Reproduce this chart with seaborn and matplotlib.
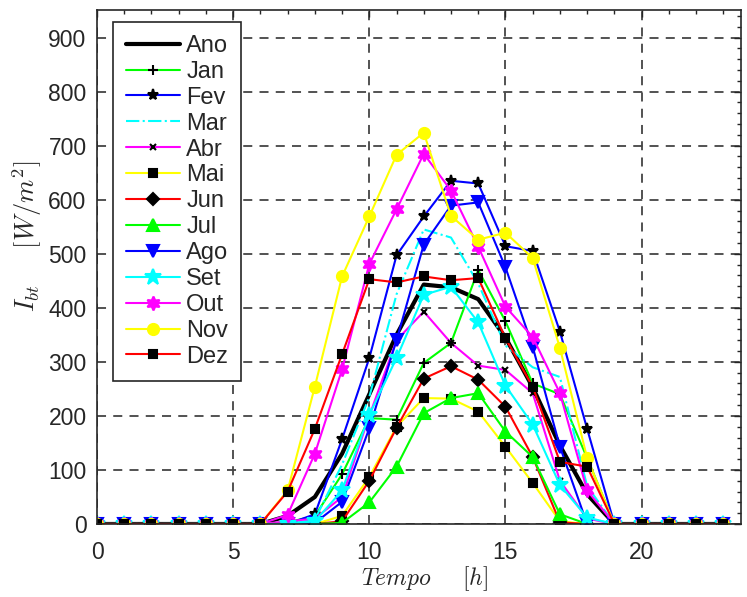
import matplotlib

matplotlib.use("Agg")
import matplotlib.pyplot as plt
import numpy as np
import pandas as pd
import seaborn as sns
from matplotlib.ticker import MultipleLocator

hours = list(range(24))

# Irradiance values [W/m^2] per hour (0..23)
ano = [0, 0, 0, 0, 0, 0, 0, 15, 50, 130, 240, 350, 443, 438, 416, 345, 253, 145, 55, 0, 0, 0, 0, 0]
jan = [0, 0, 0, 0, 0, 0, 0, 3, 15, 92, 196, 193, 298, 335, 470, 375, 260, 240, 122, 0, 0, 0, 0, 0]
fev = [0, 0, 0, 0, 0, 0, 0, 0, 18, 157, 307, 497, 569, 635, 630, 514, 505, 356, 176, 0, 0, 0, 0, 0]
mar = [0, 0, 0, 0, 0, 0, 0, 0, 8, 110, 235, 425, 545, 530, 445, 330, 290, 272, 70, 0, 0, 0, 0, 0]
abr = [0, 0, 0, 0, 0, 0, 0, 5, 10, 50, 200, 340, 393, 335, 293, 285, 242, 80, 10, 0, 0, 0, 0, 0]
mai = [0, 0, 0, 0, 0, 0, 0, 0, 0, 15, 87, 180, 233, 232, 208, 143, 76, 5, 0, 0, 0, 0, 0, 0]
jun = [0, 0, 0, 0, 0, 0, 0, 0, 0, 5, 80, 178, 269, 292, 267, 217, 124, 3, 0, 0, 0, 0, 0, 0]
jul = [0, 0, 0, 0, 0, 0, 0, 0, 0, 2, 40, 106, 205, 233, 242, 171, 124, 18, 0, 0, 0, 0, 0, 0]
ago = [0, 0, 0, 0, 0, 0, 0, 0, 2, 41, 177, 340, 517, 589, 595, 475, 328, 143, 0, 0, 0, 0, 0, 0]
sete = [0, 0, 0, 0, 0, 0, 0, 0, 5, 62, 202, 307, 424, 439, 373, 256, 184, 72, 12, 0, 0, 0, 0, 0]
out = [0, 0, 0, 0, 0, 0, 0, 17, 130, 286, 481, 582, 685, 617, 513, 402, 346, 242, 62, 0, 0, 0, 0, 0]
nov = [0, 0, 0, 0, 0, 0, 0, 62, 254, 458, 569, 683, 724, 570, 526, 539, 492, 326, 122, 0, 0, 0, 0, 0]
dez = [0, 0, 0, 0, 0, 0, 0, 60, 176, 314, 453, 447, 458, 451, 455, 344, 254, 115, 106, 0, 0, 0, 0, 0]

labels = ["Ano", "Jan", "Fev", "Mar", "Abr", "Mai", "Jun", "Jul", "Ago", "Set", "Out", "Nov", "Dez"]
series = [ano, jan, fev, mar, abr, mai, jun, jul, ago, sete, out, nov, dez]

# line colour, linestyle, marker, marker colour, marker size, line width
styles = {
    "Ano": dict(color="k", ls="-", marker=None, mc="k", ms=0, lw=3.0),
    "Jan": dict(color="#00ff00", ls="-", marker="+", mc="k", ms=7, lw=1.5),
    "Fev": dict(color="#0000ff", ls="-", marker="*", mc="k", ms=8, lw=1.5),
    "Mar": dict(color="#00ffff", ls="-.", marker=None, mc="#00ffff", ms=0, lw=1.5),
    "Abr": dict(color="#ff00ff", ls="-", marker="x", mc="k", ms=4.5, lw=1.5),
    "Mai": dict(color="#ffff00", ls="-", marker="s", mc="k", ms=6, lw=1.5),
    "Jun": dict(color="#ff0000", ls="-", marker="D", mc="k", ms=6, lw=1.5),
    "Jul": dict(color="#00ff00", ls="-", marker="^", mc="#00ff00", ms=8, lw=1.5),
    "Ago": dict(color="#0000ff", ls="-", marker="v", mc="#0000ff", ms=8, lw=1.5),
    "Set": dict(color="#00ffff", ls="-", marker="*", mc="#00ffff", ms=12, lw=1.5),
    "Out": dict(color="#ff00ff", ls="-", marker=(6, 1, 0), mc="#ff00ff", ms=10, lw=1.5),
    "Nov": dict(color="#ffff00", ls="-", marker="o", mc="#ffff00", ms=8, lw=1.5),
    "Dez": dict(color="#ff0000", ls="-", marker="s", mc="k", ms=6, lw=1.5),
}

sns.set_style("white")
plt.rcParams["font.family"] = ["Liberation Sans", "DejaVu Sans"]
plt.rcParams["mathtext.fontset"] = "cm"

fig = plt.figure(figsize=(7.47, 5.97), dpi=100)
ax = fig.add_axes([97 / 747, 73 / 597, 644 / 747, 514 / 597])

for name, vals in zip(labels, series):
    st = styles[name]
    df = pd.DataFrame({"h": hours, "v": vals})
    kw = dict(color=st["color"], linestyle=st["ls"], linewidth=st["lw"], label=name)
    if st["marker"] is not None:
        kw.update(marker=st["marker"], markersize=st["ms"], markerfacecolor=st["mc"],
                  markeredgecolor=st["mc"], markeredgewidth=1.5)
    sns.lineplot(data=df, x="h", y="v", ax=ax, **kw)

ax.set_xlim(0, 23.65)
ax.set_ylim(0, 951)
ax.xaxis.set_major_locator(MultipleLocator(5))
ax.xaxis.set_minor_locator(MultipleLocator(1))
ax.yaxis.set_major_locator(MultipleLocator(100))
ax.yaxis.set_minor_locator(MultipleLocator(20))
ax.tick_params(which="both", direction="in", top=True, right=True, labelsize=16.5,
               colors="#262626", width=1.0)
ax.tick_params(which="major", length=5)
ax.tick_params(which="minor", length=3)
ax.tick_params(axis="x", which="major", pad=12)
ax.tick_params(axis="y", which="major", pad=7.5)
ax.grid(True, which="major", color="#444444", linestyle=(0, (5, 4)), linewidth=1.3)
for sp in ax.spines.values():
    sp.set_color("#262626")
    sp.set_linewidth(1.2)

ax.set_xlabel(r"$Tempo\quad\;\;[h]$", fontsize=17, color="#262626")
ax.set_ylabel(r"$I_{bt}\quad\;\;[W/m^2]$", fontsize=19, color="#262626")
ax.xaxis.set_label_coords(0.509, -0.078)
ax.yaxis.set_label_coords(-0.082, 0.56)

leg = ax.legend(loc="upper left", bbox_to_anchor=(0.0248, 0.9767), fontsize=17,
                handlelength=2.3, labelspacing=0.165, borderpad=0.55, handletextpad=0.25,
                fancybox=False, framealpha=1, edgecolor="#262626", borderaxespad=0)
leg.get_frame().set_linewidth(1.2)

fig.savefig("out.png", dpi=100)
